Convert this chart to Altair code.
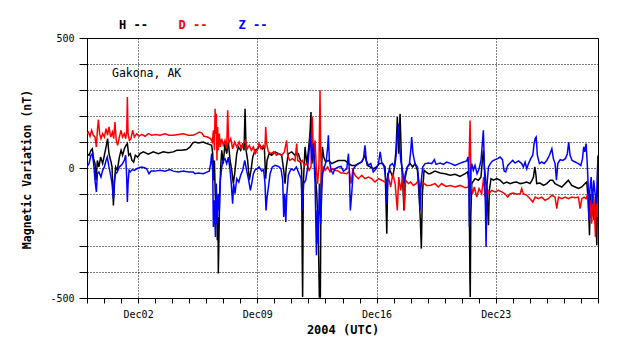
import altair as alt
import pandas as pd

BASE = pd.Timestamp("2004-11-29")
STATION = ["Gakona, AK"]
SERIES = ["H", "D", "Z"]
X_TITLE = "2004 (UTC)"
Y_TITLE = "Magnetic Variation (nT)"
Y_TICKS = [-500, -400, -300, -200, -100, 0, 100, 200, 300, 400, 500]
LABEL_DAYS = [2, 9, 16, 23]

h_day = [0, 0.12, 0.23, 0.31, 0.39, 0.47, 0.53, 0.61, 0.70, 0.80, 0.92, 1.02, 1.12, 1.21, 1.29, 1.39, 1.47, 1.55, 1.61, 1.68,
         1.78, 1.90, 2.00, 2.09, 2.19, 2.29, 2.37, 2.45, 2.54, 2.64, 2.74, 2.84, 2.97, 3.11, 3.31, 3.60, 3.89, 4.19, 4.48, 4.77,
         5.07, 5.27, 5.56, 5.85, 6.05, 6.20, 6.34, 6.54, 6.83, 7.03, 7.18, 7.32, 7.38, 7.44, 7.48, 7.54, 7.58, 7.61, 7.65, 7.69,
         7.71, 7.75, 7.79, 7.85, 7.91, 8.00, 8.10, 8.20, 8.30, 8.40, 8.50, 8.59, 8.67, 8.79, 8.89, 9.02, 9.14, 9.22, 9.28, 9.34,
         9.43, 9.53, 9.63, 9.73, 9.86, 10.02, 10.16, 10.30, 10.41, 10.49, 10.57, 10.69, 10.84, 11.04, 11.24, 11.43, 11.55, 11.63, 11.70, 11.82,
         12.02, 12.21, 12.41, 12.53, 12.60, 12.64, 12.66, 12.70, 12.80, 12.90, 13.00, 13.09, 13.15, 13.21, 13.29, 13.39, 13.49, 13.58, 13.64, 13.70,
         13.74, 13.82, 13.90, 14.01, 14.17, 14.37, 14.56, 14.76, 14.86, 15.15, 15.35, 15.54, 15.74, 15.93, 16.13, 16.32, 16.46, 16.62, 16.81, 17.01,
         17.17, 17.36, 17.50, 17.60, 17.66, 17.79, 17.95, 18.05, 18.14, 18.22, 18.30, 18.38, 18.46, 18.54, 18.61, 18.69, 18.81, 18.97, 19.12, 19.26,
         19.40, 19.49, 19.57, 19.63, 19.69, 19.79, 19.90, 20.04, 20.14, 20.43, 20.73, 21.02, 21.32, 21.61, 21.90, 22.20, 22.35, 22.43, 22.46, 22.48,
         22.50, 22.53, 22.59, 22.78, 22.98, 23.13, 23.21, 23.27, 23.33, 23.41, 23.49, 23.57, 23.62, 23.72, 23.86, 24.05, 24.25, 24.45, 24.64, 24.84,
         25.03, 25.23, 25.43, 25.62, 25.82, 26.01, 26.13, 26.21, 26.29, 26.35, 26.40, 26.60, 26.80, 26.99, 27.19, 27.34, 27.48, 27.68, 27.87, 28.07,
         28.26, 28.46, 28.66, 28.85, 29.05, 29.24, 29.34, 29.44, 29.50, 29.56, 29.63, 29.71, 29.77, 29.85, 29.93, 29.97, 29.99]
h_nt = [55, 49, 68, 74, 36, 17, -47, 29, 4, 42, 17, 49, 81, 113, 55, 29, 4, -144, -60, 4,
        -9, 42, 68, 49, 74, 87, 94, 49, 55, 29, 23, 49, 42, 55, 62, 53, 62, 55, 62, 59,
        62, 68, 68, 71, 81, 96, 100, 96, 100, 94, 91, 87, 55, -47, 29, -124, -214, -99, -278, -188,
        -406, -253, -99, 4, 68, 17, 94, 55, 100, 29, -9, -60, -22, 55, 81, 68, 94, 68, 228, 68,
        29, -47, -9, 42, 68, 74, 87, 74, 81, -41, 29, 55, 49, 62, 55, 49, -9, -60, 4, 55,
        62, 49, 55, 29, -9, -381, -496, -60, 81, 17, 68, 132, 215, 17, 94, -9, -99, -253, -496, -496,
        -60, 81, 42, 23, 29, 17, 23, 29, 29, 29, 17, 10, 10, 17, 23, 49, 10, 4, -3, 4,
        17, 17, 4, -253, -22, -9, -35, 4, 68, 196, 55, 209, 29, -60, -163, -35, 4, 17, 4, 17,
        -9, -99, -201, -310, -99, -9, -15, -22, -22, -12, -19, -22, -28, -24, -32, -22, -15, -60, -253, -419,
        -496, -188, -60, -41, -47, -35, 29, 68, 4, -47, -99, -220, -86, -41, -47, -41, -47, -60, -54, -60,
        -56, -54, -60, -58, -54, -60, -47, -35, 4, -22, -60, -58, -67, -60, -47, -47, -60, -67, -73, -60,
        -47, -67, -73, -79, -73, -60, -54, -137, -259, -99, -188, -137, -201, -111, -297, -60, 42]

d_day = [0, 0.08, 0.18, 0.27, 0.37, 0.47, 0.55, 0.61, 0.67, 0.74, 0.82, 0.92, 1.02, 1.12, 1.21, 1.29, 1.39, 1.49, 1.57, 1.64,
         1.72, 1.80, 1.90, 2.00, 2.09, 2.19, 2.27, 2.33, 2.37, 2.41, 2.49, 2.58, 2.68, 2.78, 2.92, 3.05, 3.21, 3.41, 3.60, 3.80,
         4.03, 4.29, 4.58, 4.81, 5.07, 5.36, 5.66, 5.95, 6.24, 6.44, 6.60, 6.73, 6.87, 7.07, 7.26, 7.36, 7.42, 7.48, 7.52, 7.55,
         7.59, 7.63, 7.67, 7.71, 7.77, 7.83, 7.91, 8.00, 8.10, 8.20, 8.26, 8.32, 8.44, 8.55, 8.67, 8.79, 8.93, 9.06, 9.18, 9.30,
         9.41, 9.53, 9.65, 9.77, 9.88, 10.00, 10.10, 10.22, 10.35, 10.45, 10.49, 10.55, 10.65, 10.81, 10.96, 11.12, 11.27, 11.43, 11.59, 11.72,
         11.78, 11.90, 12.06, 12.21, 12.31, 12.37, 12.51, 12.64, 12.76, 12.90, 13.04, 13.15, 13.23, 13.29, 13.39, 13.47, 13.54, 13.62, 13.68, 13.72,
         13.78, 13.86, 13.97, 14.13, 14.27, 14.41, 14.56, 14.76, 14.91, 15.05, 15.25, 15.40, 15.50, 15.60, 15.74, 15.93, 16.13, 16.32, 16.52, 16.71,
         16.91, 17.11, 17.30, 17.50, 17.69, 17.83, 17.95, 18.09, 18.22, 18.30, 18.42, 18.54, 18.63, 18.71, 18.87, 19.00, 19.16, 19.32, 19.46, 19.55,
         19.65, 19.79, 19.94, 20.14, 20.43, 20.63, 20.82, 21.06, 21.32, 21.61, 21.90, 22.20, 22.39, 22.49, 22.55, 22.63, 22.74, 22.88, 23.02, 23.17,
         23.29, 23.37, 23.47, 23.60, 23.76, 23.96, 24.15, 24.35, 24.54, 24.70, 24.84, 25.03, 25.23, 25.43, 25.52, 25.62, 25.82, 26.01, 26.17, 26.31,
         26.50, 26.70, 26.89, 27.09, 27.29, 27.48, 27.58, 27.68, 27.87, 28.07, 28.26, 28.46, 28.66, 28.85, 28.95, 29.05, 29.18, 29.30, 29.40, 29.48,
         29.56, 29.63, 29.71, 29.77, 29.85, 29.91, 29.97, 30.00]
d_nt = [132, 138, 122, 145, 126, 119, 81, 145, 186, 132, 113, 132, 119, 151, 126, 158, 119, 138, 113, 177,
        106, 87, 119, 145, 119, 132, 113, 138, 273, 132, 106, 113, 145, 119, 132, 122, 129, 122, 132, 126,
        129, 126, 132, 126, 126, 129, 132, 126, 126, 132, 138, 135, 122, 119, 113, 100, 145, 68, 228, 132,
        209, 29, 158, 68, 132, 81, 113, 87, 106, 74, 222, 94, 113, 74, 100, 81, 100, 74, 94, 106,
        74, 87, 68, 81, 55, 68, 94, 74, 87, 74, 158, 94, 62, 55, 62, 49, 55, 49, 62, 106,
        49, 29, 36, 27, 94, 29, 23, 29, 10, 17, -9, 4, 196, 42, 106, -9, -60, 17, 299, 68,
        -73, 4, -9, 4, -15, -3, -9, -12, -19, -19, -22, -12, -60, -9, -28, -41, -28, -41, -35, -41,
        -54, -41, -47, -54, -35, -73, -22, -60, -163, -35, -86, -22, -163, -47, -60, -54, -67, -60, -47, -86,
        -54, -60, -67, -67, -60, -73, -60, -71, -67, -73, -67, -76, -73, 183, -67, -99, -73, -112, -79, -99,
        -35, -112, -79, -99, -86, -92, -86, -92, -99, -112, -99, -96, -101, -99, -79, -99, -105, -118, -131, -112,
        -118, -112, -124, -118, -105, -112, -156, -112, -118, -112, -118, -112, -114, -112, -156, -118, -112, -118, -99, -201,
        -124, -214, -99, -137, -265, -99, -188, -112]

z_day = [0, 0.12, 0.23, 0.31, 0.39, 0.47, 0.55, 0.61, 0.70, 0.82, 0.92, 1.02, 1.12, 1.19, 1.29, 1.39, 1.47, 1.55, 1.61, 1.68,
         1.78, 1.90, 2.00, 2.09, 2.19, 2.27, 2.33, 2.37, 2.41, 2.47, 2.54, 2.66, 2.78, 2.92, 3.05, 3.21, 3.37, 3.50, 3.64, 3.76,
         3.99, 4.29, 4.58, 4.87, 5.07, 5.36, 5.66, 5.95, 6.24, 6.34, 6.54, 6.83, 7.07, 7.18, 7.26, 7.32, 7.38, 7.42, 7.48, 7.54,
         7.59, 7.65, 7.71, 7.77, 7.83, 7.91, 8.00, 8.10, 8.20, 8.30, 8.40, 8.47, 8.55, 8.61, 8.69, 8.79, 8.91, 9.02, 9.14, 9.26,
         9.37, 9.49, 9.59, 9.67, 9.77, 9.88, 10.00, 10.10, 10.26, 10.37, 10.45, 10.51, 10.57, 10.65, 10.75, 10.88, 11.04, 11.24, 11.39, 11.49,
         11.55, 11.61, 11.67, 11.72, 11.82, 11.98, 12.14, 12.29, 12.45, 12.57, 12.64, 12.72, 12.84, 12.96, 13.06, 13.11, 13.19, 13.29, 13.39, 13.47,
         13.52, 13.58, 13.64, 13.72, 13.82, 13.94, 14.05, 14.13, 14.17, 14.23, 14.33, 14.44, 14.56, 14.76, 14.91, 15.05, 15.25, 15.35, 15.40, 15.46,
         15.54, 15.64, 15.80, 15.95, 16.11, 16.23, 16.32, 16.40, 16.52, 16.66, 16.81, 16.97, 17.11, 17.21, 17.30, 17.44, 17.56, 17.60, 17.66, 17.79,
         17.93, 18.05, 18.14, 18.22, 18.28, 18.34, 18.42, 18.52, 18.61, 18.69, 18.81, 18.93, 19.01, 19.06, 19.14, 19.26, 19.40, 19.49, 19.55, 19.61,
         19.71, 19.85, 20.04, 20.24, 20.39, 20.49, 20.73, 20.92, 21.12, 21.37, 21.61, 21.84, 22.10, 22.29, 22.37, 22.43, 22.45, 22.47, 22.53, 22.59,
         22.68, 22.78, 22.90, 23.02, 23.13, 23.21, 23.27, 23.33, 23.39, 23.43, 23.49, 23.57, 23.68, 23.80, 23.96, 24.11, 24.25, 24.39, 24.49, 24.58,
         24.70, 24.84, 24.99, 25.13, 25.33, 25.52, 25.62, 25.72, 25.82, 25.92, 26.05, 26.17, 26.25, 26.31, 26.37, 26.44, 26.56, 26.70, 26.84, 26.99,
         27.15, 27.29, 27.38, 27.48, 27.56, 27.64, 27.78, 27.93, 28.09, 28.20, 28.28, 28.36, 28.48, 28.66, 28.85, 28.99, 29.09, 29.16, 29.22, 29.30,
         29.36, 29.42, 29.46, 29.52, 29.60, 29.67, 29.75, 29.83, 29.91, 29.97, 30.00]
z_nt = [4, 17, 49, 55, 17, -47, -92, -22, -15, -35, -9, 4, 29, 42, 4, -28, -60, -118, -47, -22,
        -15, 4, 10, 17, 29, 49, -35, -131, -60, -9, -15, -6, -9, -3, 1, 4, 1, -3, -22, -12,
        -12, -9, -12, -6, -12, -15, -12, -15, -15, -22, -19, -22, -15, -12, 17, 55, -9, -227, -124, -265,
        -60, -214, -99, -163, -47, 4, 29, 36, 17, 42, -9, -60, -137, -60, -99, -41, -54, -28, -9, 29,
        -9, -47, -86, -60, -22, -6, -3, 4, -12, -6, -60, -163, -112, -73, -22, 4, 10, 6, -3, -47,
        -188, -99, -208, -112, -28, -3, -9, 4, -22, -41, -163, -60, -47, 4, 81, 132, 29, 94, -60, -336,
        -163, -291, -60, -214, -22, 4, 29, 81, 126, 29, -9, -22, -3, 4, 6, -12, -3, 55, -9, -163,
        -99, -3, 10, 17, 23, 36, 87, 29, 10, 17, -15, -3, 17, 62, 23, 4, -47, -137, -35, 10,
        17, 4, 42, 132, 171, 94, 29, -9, -60, -22, 4, 17, 68, 119, 55, 17, 4, -60, -163, -60,
        4, 17, 19, 17, 32, 14, 19, 14, 23, 17, 10, 17, 23, 27, 42, -60, -227, -150, -9, 17,
        -9, 10, -22, -3, 29, 94, 145, 4, -150, -304, -60, 4, 17, 27, 32, 36, 42, 32, -12, -15,
        10, 19, 29, 19, 27, 17, 4, 23, -3, 17, 36, 49, 94, 113, 119, 49, 17, 23, 17, 29,
        49, 74, 36, 17, -47, 17, 32, 29, 36, 55, 100, 49, 29, 23, 17, 10, 36, 81, 62, 94,
        29, -60, -201, -86, -35, -137, -47, -99, -137, -9, 49]


def to_time(days):
    return [(BASE + pd.to_timedelta(d, unit="D")).strftime("%Y-%m-%dT%H:%M:%S") for d in days]


series_data = {
    "H": pd.DataFrame({"time": to_time(h_day), "nT": h_nt}),
    "D": pd.DataFrame({"time": to_time(d_day), "nT": d_nt}),
    "Z": pd.DataFrame({"time": to_time(z_day), "nT": z_nt}),
}
colors = {"H": "#000000", "D": "#ff0000", "Z": "#0000ff"}
legend_x = {"H": 32, "D": 91.5, "Z": 151.5}

FONT = "DejaVu Sans Mono"

tick_dates = [alt.DateTime(year=2004, month=11, date=d) for d in (29, 30)] + \
             [alt.DateTime(year=2004, month=12, date=d) for d in range(1, 30)]
day_test = "indexof([" + ",".join(str(d) for d in LABEL_DAYS) + "], date(datum.value)) >= 0"

x_enc = alt.X(
    "time:T",
    scale=alt.Scale(domain=[alt.DateTime(year=2004, month=11, date=29),
                            alt.DateTime(year=2004, month=12, date=29)]),
    axis=alt.Axis(
        title=X_TITLE, values=tick_dates, format="%b%d",
        labelExpr=day_test + " ? timeFormat(datum.value, '%b%d') : ''",
        labelOverlap=False, labelFlush=False,
        tickSize=5, tickColor="black", domainColor="black",
        labelFont=FONT, labelFontSize=10, labelColor="black", labelPadding=6,
        titleFont=FONT, titleFontSize=12, titleFontWeight="bold", titleColor="black",
        titleY=31, titleBaseline="middle",
        grid=True, gridColor="black", gridDash=[1, 2], gridWidth=1,
        gridOpacity={"condition": {"test": day_test, "value": 1}, "value": 0},
    ),
)
y_enc = alt.Y(
    "nT:Q",
    scale=alt.Scale(domain=[-500, 500], nice=False),
    axis=alt.Axis(
        title=Y_TITLE, values=Y_TICKS,
        labelExpr="datum.value == 0 ? '0' : (datum.value == 500 ? '500' : (datum.value == -500 ? '-500' : ''))",
        tickSize=8, tickColor="black", domainColor="black",
        labelFont=FONT, labelFontSize=10, labelColor="black", labelPadding=5,
        titleFont=FONT, titleFontSize=11.5, titleFontWeight="bold", titleColor="black",
        titleX=-60, titleY=131, titleAngle=270, titleAlign="center", titleBaseline="middle",
        grid=True, gridColor="black", gridDash=[1, 2], gridWidth=1,
    ),
)

layers = []
for s in SERIES:
    layers.append(
        alt.Chart(series_data[s]).mark_line(strokeWidth=1.5, clip=True, color=colors[s]).encode(
            x=x_enc, y=y_enc
        )
    )

for s in SERIES:
    layers.append(
        alt.Chart(pd.DataFrame({"label": [s + " --"]})).mark_text(
            align="left", baseline="alphabetic", font=FONT, fontSize=12,
            fontWeight="bold", color=colors[s]
        ).encode(x=alt.value(legend_x[s]), y=alt.value(-8.7), text="label:N")
    )

layers.append(
    alt.Chart(pd.DataFrame({"label": STATION})).mark_text(
        align="left", baseline="alphabetic", font=FONT, fontSize=11.5, color="black"
    ).encode(x=alt.value(25), y=alt.value(39), text="label:N")
)

chart = alt.layer(*layers).properties(
    width=511, height=260,
    padding={"left": 79, "top": 30, "right": 30, "bottom": 45},
    autosize=alt.AutoSizeParams(type="none"),
    background="white",
).configure_view(stroke="black", strokeWidth=1)

chart.save("out.html", embed_options={"renderer": "svg", "actions": False})
